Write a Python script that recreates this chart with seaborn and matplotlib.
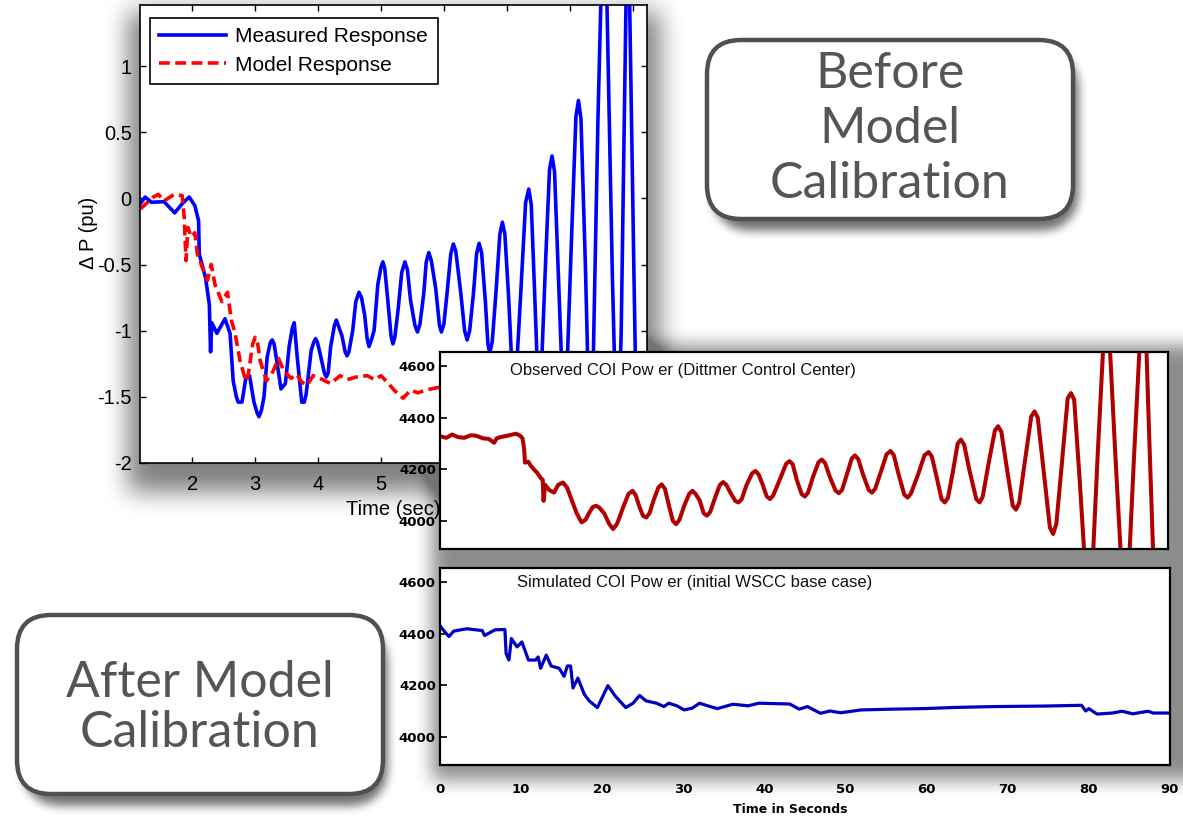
import numpy as np
import matplotlib
matplotlib.use("Agg")
import matplotlib.pyplot as plt
from matplotlib.patches import FancyBboxPatch
import seaborn as sns

# ---------------- data ----------------
# Top-left panel: Delta P (pu) vs time (sec)
meas_t = [1.175, 1.25, 1.35, 1.55, 1.72, 1.84, 1.95, 2.04, 2.10, 2.11, 2.21, 2.27, 2.29, 2.31,
          2.39, 2.52, 2.60, 2.65, 2.70, 2.73, 2.79, 2.85, 2.91, 2.98, 3.03, 3.06, 3.10, 3.14, 3.19,
          3.24, 3.27, 3.30, 3.34, 3.41, 3.48, 3.54, 3.59, 3.62, 3.67, 3.74, 3.78, 3.81, 3.89, 3.93,
          3.96, 3.99, 4.03, 4.10, 4.13, 4.16, 4.20, 4.26, 4.29, 4.32, 4.38, 4.43, 4.46, 4.49,
          4.55, 4.60, 4.65, 4.69, 4.74, 4.78, 4.81, 4.84, 4.89, 4.95, 5.00, 5.03, 5.06, 5.11,
          5.16, 5.19, 5.22, 5.27, 5.33, 5.38, 5.42, 5.47, 5.54, 5.58, 5.62, 5.68, 5.72, 5.76,
          5.80, 5.87, 5.93, 5.96, 6.00, 6.05, 6.11, 6.15, 6.19, 6.27, 6.33, 6.37, 6.41, 6.47,
          6.52, 6.56, 6.60, 6.66, 6.70, 6.73, 6.77, 6.83, 6.89, 6.93, 6.97, 7.03, 7.08, 7.12,
          7.16, 7.23, 7.30, 7.35, 7.39, 7.45, 7.50, 7.55, 7.62, 7.68, 7.72, 7.76, 7.83, 7.90,
          7.95, 8.03, 8.10, 8.14, 8.18, 8.25, 8.32, 8.36, 8.45, 8.50, 8.59, 8.68, 8.76, 8.82,
          8.90, 8.95, 9.02, 9.08]
meas_v = [-0.04, 0.01, -0.03, -0.025, -0.11, -0.04, 0.01, -0.055, -0.17, -0.42, -0.60, -0.80, -1.16, -0.94,
          -1.02, -0.91, -1.02, -1.38, -1.50, -1.54, -1.54, -1.36, -1.34, -1.54, -1.62, -1.65, -1.60, -1.50, -1.20,
          -1.09, -1.07, -1.10, -1.22, -1.44, -1.40, -1.12, -0.98, -0.94, -1.21, -1.54, -1.54, -1.48, -1.15, -1.09,
          -1.06, -1.09, -1.17, -1.32, -1.35, -1.32, -1.12, -0.96, -0.92, -0.96, -1.04, -1.16, -1.19, -1.16,
          -1.00, -0.78, -0.71, -0.75, -0.88, -1.06, -1.12, -1.08, -1.00, -0.65, -0.52, -0.48, -0.53, -0.78,
          -1.04, -1.10, -1.05, -0.85, -0.56, -0.48, -0.54, -0.77, -0.96, -1.01, -0.95, -0.72, -0.48, -0.41,
          -0.47, -0.68, -0.96, -1.01, -0.95, -0.72, -0.42, -0.345, -0.40, -0.72, -1.00, -1.07, -1.00, -0.72,
          -0.42, -0.34, -0.41, -0.78, -1.10, -1.17, -1.08, -0.70, -0.27, -0.18, -0.27, -0.75, -1.25, -1.35,
          -1.25, -0.65, -0.03, 0.07, -0.05, -0.80, -1.45, -1.30, -0.45, 0.22, 0.32, 0.20, -0.70, -1.60,
          -1.40, -0.30, 0.62, 0.74, 0.60, -0.50, -1.85, -1.60, 0.60, 1.55, 1.55, -0.60, -2.10, -1.00,
          1.60, 1.60, -0.50, -2.20]

model_t = [1.175, 1.38, 1.46, 1.55, 1.71, 1.84, 1.87, 1.90, 1.93, 1.98, 2.04, 2.08, 2.18, 2.24,
           2.30, 2.36, 2.47, 2.56, 2.62, 2.68, 2.76, 2.85, 2.89, 2.96, 3.00, 3.04, 3.08, 3.18, 3.28, 3.37,
           3.45, 3.57, 3.66, 3.74, 3.83, 3.92, 4.03, 4.20, 4.35, 4.46, 4.61, 4.78, 4.90, 5.00,
           5.10, 5.21, 5.35, 5.47, 5.59, 5.70, 5.90, 6.50, 7.50, 9.20]
model_v = [-0.08, 0.01, 0.03, -0.02, 0.03, 0.02, -0.14, -0.47, -0.22, -0.29, -0.26, -0.42, -0.55, -0.62,
           -0.50, -0.65, -0.78, -0.71, -0.92, -1.02, -1.23, -1.38, -1.33, -1.10, -1.05, -1.10, -1.23, -1.38, -1.31, -1.21,
           -1.30, -1.36, -1.33, -1.39, -1.41, -1.34, -1.36, -1.40, -1.34, -1.37, -1.35, -1.34, -1.37, -1.34,
           -1.39, -1.45, -1.51, -1.45, -1.47, -1.45, -1.43, -1.42, -1.42, -1.42]

# Middle panel: observed COI power (MW) vs time (s)
obs_t = [0, 0.8, 1.5, 2.2, 3.0, 3.8, 4.5, 5.3, 6.0, 6.7, 7.0, 7.5, 8.3, 9.0, 9.4, 9.9, 10.2, 10.4,
         10.5, 10.9, 11.2, 11.6, 12.0, 12.5, 12.7, 12.8, 13.0, 13.5, 14.1, 14.6, 15.2, 15.7, 16.3,
         16.9, 17.5, 18.0, 18.4, 18.9, 19.3, 19.7, 20.3, 20.9, 21.4, 21.9, 22.6, 23.3, 23.8, 24.2,
         24.6, 25.1, 25.5, 25.9, 26.4, 27.0, 27.4, 27.8, 28.3, 28.8, 29.2, 29.6, 30.2, 30.8, 31.2,
         31.6, 32.1, 32.6, 33.0, 33.4, 34.0, 34.6, 35.0, 35.4, 35.9, 36.5, 36.9, 37.3, 37.9, 38.6,
         39.0, 39.4, 39.9, 40.4, 40.8, 41.2, 42.0, 42.8, 43.2, 43.6, 44.1, 44.7, 45.1, 45.5, 46.1,
         46.8, 47.2, 47.6, 48.2, 48.9, 49.3, 49.7, 50.3, 50.9, 51.3, 51.7, 52.3, 53.0, 53.4, 53.8,
         54.5, 55.2, 55.7, 56.1, 56.7, 57.4, 57.8, 58.2, 59.1, 59.9, 60.4, 60.8, 61.4, 62.0, 62.4,
         62.8, 63.4, 64.0, 64.4, 64.8, 65.5, 66.3, 66.7, 67.1, 67.8, 68.6, 69.0, 69.4, 70.1, 70.8,
         71.2, 71.6, 72.3, 73.1, 73.5, 73.9, 74.6, 75.4, 75.8, 76.2, 76.9, 77.6, 78.0, 78.4, 79.1,
         79.8, 80.2, 80.7, 81.3, 82.0, 82.4, 82.8, 83.5, 84.2, 84.7, 85.2, 85.8, 86.5, 87.0, 87.3,
         87.6, 88.3]
obs_v = [4328, 4322, 4335, 4325, 4322, 4332, 4330, 4320, 4318, 4303, 4320, 4325, 4330, 4335, 4338, 4330, 4320, 4280,
         4226, 4230, 4215, 4200, 4187, 4165, 4160, 4078, 4140, 4120, 4110, 4140, 4149, 4130, 4080,
         4030, 3995, 4005, 4030, 4055, 4059, 4052, 4030, 3990, 3969, 3990, 4050, 4105, 4117, 4100,
         4060, 4020, 4014, 4030, 4080, 4130, 4142, 4125, 4060, 4000, 3988, 4005, 4060, 4105, 4117,
         4105, 4080, 4030, 4021, 4035, 4090, 4140, 4151, 4140, 4110, 4078, 4072, 4085, 4140, 4185,
         4194, 4180, 4140, 4095, 4085, 4100, 4160, 4222, 4232, 4220, 4160, 4105, 4095, 4110, 4170,
         4228, 4238, 4225, 4170, 4118, 4108, 4120, 4180, 4242, 4254, 4240, 4180, 4120, 4110, 4125,
         4190, 4258, 4271, 4255, 4180, 4102, 4091, 4105, 4180, 4255, 4267, 4250, 4170, 4085, 4072,
         4090, 4190, 4300, 4315, 4295, 4190, 4085, 4072, 4095, 4220, 4350, 4367, 4345, 4200, 4060,
         4044, 4070, 4230, 4405, 4424, 4400, 4200, 3975, 3950, 3990, 4230, 4475, 4495, 4470, 4150,
         3800, 3750, 3850, 4250, 4680, 4750, 4680, 4250, 3850, 3750, 3850, 4250, 4680, 4750, 4700,
         4400, 3750]

# Bottom panel: simulated COI power (MW) vs time (s)
sim_t = [0, 0.45, 1.1, 1.7, 3.3, 5.2, 5.5, 6.8, 8.0, 8.15, 8.5, 8.8, 9.5, 10.1, 10.9, 11.8, 12.1, 12.4,
         13.1, 13.7, 14.7, 15.3, 15.7, 16.1, 16.4, 17.0, 17.8, 18.4, 19.4, 20.7, 21.6, 22.9, 23.8,
         24.6, 25.4, 26.7, 27.6, 28.2, 29.2, 30.1, 31.1, 32.0, 33.0, 34.2, 36.1, 38.0, 39.3, 43.1,
         44.3, 45.3, 46.9, 48.1, 49.4, 51.9, 55.7, 59.5, 63.9, 68.3, 74.6, 79.1, 79.6, 80.0, 81.0,
         82.9, 84.1, 85.4, 87.3, 87.9, 90.0]
sim_v = [4431, 4412, 4389, 4410, 4419, 4412, 4393, 4415, 4416, 4323, 4298, 4381, 4349, 4368, 4298, 4298, 4310, 4266,
         4317, 4275, 4266, 4235, 4275, 4275, 4190, 4228, 4165, 4140, 4114, 4199, 4159, 4114, 4131,
         4161, 4140, 4131, 4118, 4131, 4121, 4105, 4112, 4131, 4121, 4110, 4127, 4121, 4131, 4128,
         4108, 4118, 4092, 4101, 4094, 4105, 4108, 4110, 4115, 4118, 4120, 4123, 4101, 4110, 4089,
         4093, 4100, 4090, 4100, 4093, 4093]

top_xticks = [2, 3, 4, 5, 6, 7, 8, 9]
top_yticks = [-2, -1.5, -1, -0.5, 0, 0.5, 1]
top_yticklabels = ["-2", "-1.5", "-1", "-0.5", "0", "0.5", "1"]
coi_yticks = [4000, 4200, 4400, 4600]
coi_xticks = [0, 10, 20, 30, 40, 50, 60, 70, 80, 90]

# ---------------- layout helpers ----------------
W, H = 1183, 819
plt.rcParams["axes.unicode_minus"] = False
plt.rcParams["font.family"] = ["Liberation Sans", "DejaVu Sans"]

fig = plt.figure(figsize=(W / 100, H / 100), dpi=100)
fig.patch.set_facecolor("white")


def fig_rect(x0, y0, x1, y1):
    return [x0 / W, 1 - y1 / H, (x1 - x0) / W, (y1 - y0) / H]


# ----- soft shadow background -----
def box1d(a, r, axis):
    a = np.moveaxis(a, axis, -1)
    pad = [(0, 0)] * (a.ndim - 1) + [(r + 1, r)]
    p = np.pad(a, pad, mode="edge")
    c = np.cumsum(p, axis=-1)
    out = (c[..., 2 * r + 1:] - c[..., :-2 * r - 1]) / (2 * r + 1)
    return np.moveaxis(out, -1, axis)


def blur(m, r, n=3):
    for _ in range(n):
        m = box1d(m, r, 0)
        m = box1d(m, r, 1)
    return m


yy, xx = np.mgrid[0:H, 0:W]


def rect_mask(x0, y0, x1, y1):
    m = np.zeros((H, W))
    m[max(y0, 0):min(y1, H), max(x0, 0):min(x1, W)] = 1.0
    return m


def rrect_mask(x0, y0, x1, y1, r):
    cx = np.clip(xx, x0 + r, x1 - r)
    cy = np.clip(yy, y0 + r, y1 - r)
    return (((xx - cx) ** 2 + (yy - cy) ** 2) <= r * r).astype(float)


dark = np.zeros((H, W))
dark += 0.50 * blur(rect_mask(128, 12, 660, 492), 11)
dark += 0.45 * blur(rect_mask(432, 345, 1190, 560), 8)
dark += 0.45 * blur(rect_mask(432, 560, 1190, 780), 8)
dark += 0.55 * blur(rrect_mask(712, 50, 1078, 230, 35), 4)
dark += 0.55 * blur(rrect_mask(22, 625, 387, 805, 35), 4)
gray = 1 - np.clip(dark, 0, 0.55)

ax_bg = fig.add_axes([0, 0, 1, 1], zorder=-10)
ax_bg.imshow(gray, cmap="gray", vmin=0, vmax=1, extent=(0, W, H, 0), aspect="auto",
             interpolation="bilinear")
ax_bg.set_xlim(0, W)
ax_bg.set_ylim(H, 0)
ax_bg.axis("off")

# ---------------- top-left panel ----------------
ax1 = fig.add_axes(fig_rect(140, 5, 647, 463), zorder=1)
ax1.set_facecolor("white")
sns.lineplot(x=meas_t, y=meas_v, ax=ax1, color="#0000ff", lw=2.6, sort=False,
             estimator=None, label="Measured Response")
sns.lineplot(x=model_t, y=model_v, ax=ax1, color="#ff0000", lw=2.6, sort=False,
             estimator=None, linestyle=(0, (3.0, 1.5)), label="Model Response")
ax1.set_xlim(1.168, 9.23)
ax1.set_ylim(-2, 1.461)
ax1.set_xticks(top_xticks)
ax1.set_yticks(top_yticks)
ax1.set_yticklabels(top_yticklabels)
ax1.tick_params(direction="in", length=4, width=1, top=True, right=True,
                labelsize=14.5, pad=6, colors="black")
ax1.tick_params(axis="x", pad=9)
for s in ax1.spines.values():
    s.set_color("black")
    s.set_linewidth(1.2)
ax1.set_xlabel("Time (sec)", fontsize=14.5)
ax1.xaxis.set_label_coords(0.5, -0.080)
ax1.set_ylabel("Δ P (pu)", fontsize=14.5)
ax1.yaxis.set_label_coords(-0.082, 0.502)
leg = ax1.legend(loc="upper left", bbox_to_anchor=(0.0197, 0.9716), borderaxespad=0,
                 fancybox=False, framealpha=1, edgecolor="black", fontsize=15,
                 handlelength=3.2, borderpad=0.45, labelspacing=0.45, handletextpad=0.45)
leg.get_frame().set_linewidth(1.2)

# ---------------- middle panel ----------------
ax2 = fig.add_axes(fig_rect(440, 352, 1168, 549), zorder=2)
ax2.set_facecolor("white")
sns.lineplot(x=obs_t, y=obs_v, ax=ax2, color="#b00000", lw=2.9, sort=False, estimator=None)
ax2.set_xlim(0, 90)
ax2.set_ylim(3892, 4654)
ax2.set_yticks(coi_yticks)
ax2.set_xticks([])
ax2.tick_params(axis="y", direction="in", length=5, width=1.2, pad=3, labelsize=9.5)
for lab in ax2.get_yticklabels():
    lab.set_fontweight("bold")
    lab.set_family("DejaVu Sans")
for s in ax2.spines.values():
    s.set_color("black")
    s.set_linewidth(1.6)
ax2.set_xlabel("")
ax2.set_ylabel("")
ax2.text(0.096, 0.905, "Observed COI Pow er (Dittmer Control Center)", transform=ax2.transAxes,
         ha="left", va="center", fontsize=12, color="#111111")

# ---------------- bottom panel ----------------
ax3 = fig.add_axes(fig_rect(440, 568, 1170, 765), zorder=2)
ax3.set_facecolor("white")
sns.lineplot(x=sim_t, y=sim_v, ax=ax3, color="#0000c0", lw=2.3, sort=False, estimator=None)
ax3.set_xlim(0, 90)
ax3.set_ylim(3892, 4654)
ax3.set_yticks(coi_yticks)
ax3.set_xticks(coi_xticks)
ax3.tick_params(axis="y", direction="in", length=5, width=1.2, pad=3, labelsize=9.5)
ax3.tick_params(axis="x", direction="in", length=0, pad=13, labelsize=9.5)
for lab in ax3.get_yticklabels() + ax3.get_xticklabels():
    lab.set_fontweight("bold")
    lab.set_family("DejaVu Sans")
for s in ax3.spines.values():
    s.set_color("black")
    s.set_linewidth(1.6)
ax3.set_ylabel("")
ax3.set_xlabel("Time in Seconds", fontsize=9, fontweight="bold", family="DejaVu Sans")
ax3.xaxis.set_label_coords(0.48, -0.195)
ax3.text(0.105, 0.925, "Simulated COI Pow er (initial WSCC base case)", transform=ax3.transAxes,
         ha="left", va="center", fontsize=12, color="#111111")

# ---------------- annotation boxes ----------------
ax_ov = fig.add_axes([0, 0, 1, 1], zorder=10)
ax_ov.set_xlim(0, W)
ax_ov.set_ylim(H, 0)
ax_ov.axis("off")
ax_ov.patch.set_alpha(0)

for (x0, y0, x1, y1) in [(707, 40, 1073, 219), (17, 615, 383, 794)]:
    ax_ov.add_patch(FancyBboxPatch((x0, y0), x1 - x0, y1 - y0,
                                   boxstyle="round,pad=0,rounding_size=34",
                                   facecolor="white", edgecolor="#505050", lw=3.2))

ax_ov.text(890, 129, "Before\nModel\nCalibration", ha="center", va="center", fontsize=36,
           color="#555555", linespacing=1.24, family=["Lato", "DejaVu Sans"], weight="normal")
ax_ov.text(200, 708, "After Model\nCalibration", ha="center", va="center", fontsize=36,
           color="#555555", linespacing=1.13, family=["Lato", "DejaVu Sans"], weight="normal")

fig.savefig("out.png", dpi=100)
